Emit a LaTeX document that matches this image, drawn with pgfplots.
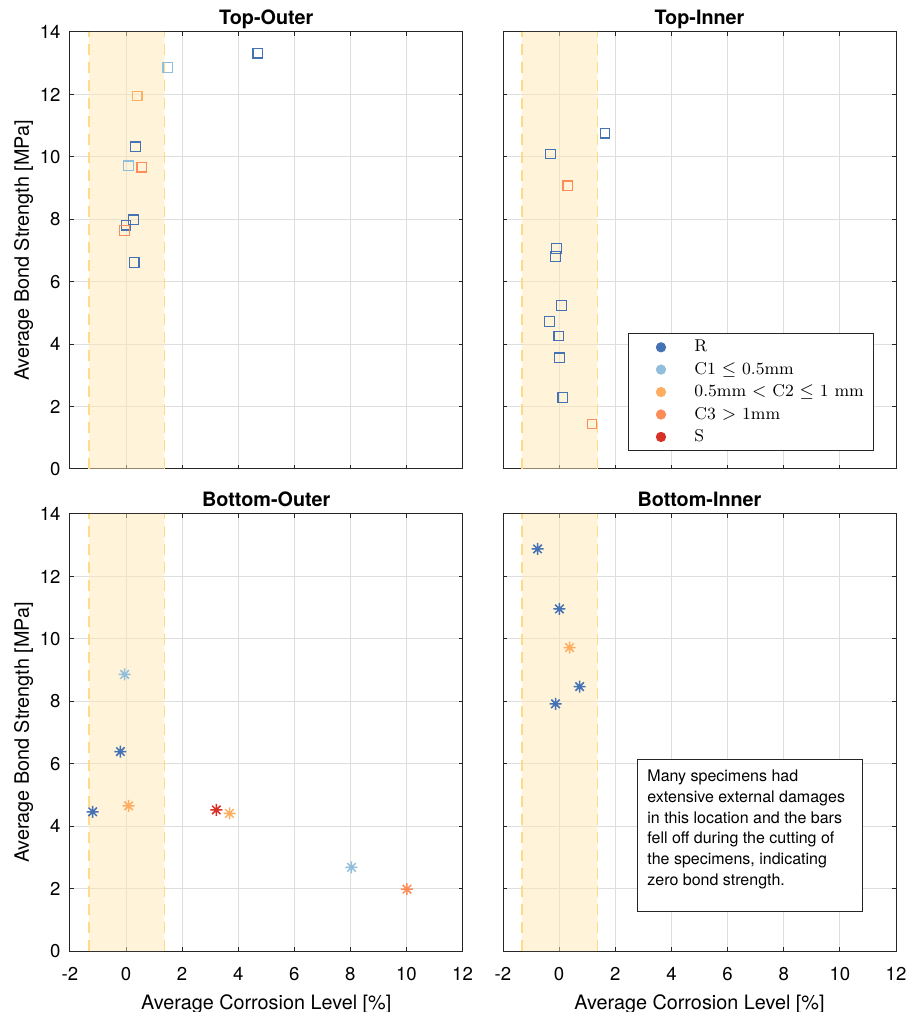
\documentclass[border=0pt]{standalone}
\usepackage{pgfplots}
\pgfplotsset{compat=1.18}
\usepackage{fontspec}
\setsansfont{TeX Gyre Heros}
\definecolor{cR}{RGB}{68,114,180}
\definecolor{cC1}{RGB}{145,191,219}
\definecolor{cC2}{RGB}{253,174,97}
\definecolor{cC3}{RGB}{252,141,89}
\definecolor{cS}{RGB}{215,48,39}
\definecolor{shadefill}{RGB}{255,231,179}
\definecolor{shadeline}{RGB}{255,218,135}
\pgfdeclareplotmark{mast}{%
  \pgfpathmoveto{\pgfqpoint{-\pgfplotmarksize}{0pt}}\pgfpathlineto{\pgfqpoint{\pgfplotmarksize}{0pt}}%
  \pgfpathmoveto{\pgfqpoint{0pt}{-\pgfplotmarksize}}\pgfpathlineto{\pgfqpoint{0pt}{\pgfplotmarksize}}%
  \pgfpathmoveto{\pgfqpoint{-0.7071\pgfplotmarksize}{-0.7071\pgfplotmarksize}}\pgfpathlineto{\pgfqpoint{0.7071\pgfplotmarksize}{0.7071\pgfplotmarksize}}%
  \pgfpathmoveto{\pgfqpoint{-0.7071\pgfplotmarksize}{0.7071\pgfplotmarksize}}\pgfpathlineto{\pgfqpoint{0.7071\pgfplotmarksize}{-0.7071\pgfplotmarksize}}%
  \pgfusepathqstroke}
\pgfplotsset{
  panel/.style={
    scale only axis, height=218.5pt,
    xmin=-2, xmax=12, ymin=0, ymax=14,
    xtick={-2,0,2,4,6,8,10,12}, ytick={0,2,4,6,8,10,12,14},
    xticklabels={-2,0,2,4,6,8,10,12},
    yticklabels={0,2,4,6,8,10,12,14},
    grid=major, major grid style={color=black!13, line width=0.5pt},
    axis line style={black!85, line width=0.5pt},
    tick align=inside, major tick length=2pt,
    tick style={black!85, line width=0.5pt},
    font=\sffamily\fontsize{9.3}{11}\selectfont,
    xticklabel style={yshift=-4.5pt},
    yticklabel style={xshift=-1.2pt},
    label style={font=\sffamily\fontsize{9.9}{12}\selectfont},
    ylabel shift=-3.5pt,
    title style={font=\sffamily\bfseries\fontsize{9.9}{12}\selectfont, at={(0.5,1)}, anchor=base, yshift=-2.1pt},
    clip=false,
  },
  sq/.style={only marks, mark=square, mark size=2.4pt, line width=0.6pt},
  ast/.style={only marks, mark=mast, mark size=3pt, line width=0.75pt},
}
\newcommand{\corrband}{%
  \addplot[draw=none, fill=shadefill, fill opacity=0.5, forget plot] coordinates {(-1.33,0) (-1.33,14) (1.37,14) (1.37,0)} \closedcycle;
  \addplot[shadeline, line width=0.85pt, dash pattern=on 5.5pt off 3.5pt, forget plot] coordinates {(-1.33,0) (-1.33,14)};
  \addplot[shadeline, line width=0.85pt, dash pattern=on 5.5pt off 3.5pt, forget plot] coordinates {(1.37,0) (1.37,14)};
}
\begin{document}
\begin{tikzpicture}
\path[use as bounding box] (0,0) rectangle (459pt,506pt);
% Top-Outer
\begin{axis}[panel, width=196.25pt, at={(35pt,271.5pt)}, anchor=south west,
  title={Top-Outer}, xticklabels={}, ylabel={Average Bond Strength [MPa]}]
\corrband
\addplot[sq, cR] coordinates {(4.70,13.32) (0.34,10.32) (0.26,7.98) (0.00,7.81) (0.29,6.62)};
\addplot[sq, cC1] coordinates {(1.49,12.86) (0.09,9.71)};
\addplot[sq, cC2] coordinates {(0.40,11.95)};
\addplot[sq, cC3] coordinates {(0.56,9.67) (-0.05,7.64)};
\end{axis}
% Top-Inner
\begin{axis}[panel, width=196.5pt, at={(251.5pt,271.5pt)}, anchor=south west,
  title={Top-Inner}, xticklabels={}, yticklabels={},
  legend style={at={(0.318,0.311)}, anchor=north west, draw=black!85, line width=0.5pt,
    font=\rmfamily\fontsize{8.55}{9.5}\selectfont, row sep=-0.3pt, inner xsep=3pt, inner ysep=1.2pt,
    cells={anchor=west}},
  legend image code/.code={\path (0pt,0pt) (27.5pt,0pt); \draw[#1] plot coordinates {(13pt,0pt)};}]
\corrband
\addplot[sq, cR, forget plot] coordinates {(1.63,10.76) (-0.31,10.09) (-0.09,7.07) (-0.13,6.81) (0.08,5.24) (-0.34,4.72) (-0.01,4.26) (0.01,3.56) (0.13,2.29)};
\addplot[sq, cC3, forget plot] coordinates {(0.31,9.07) (1.17,1.44)};
\addlegendimage{only marks, mark=*, mark size=2.3pt, color=cR}
\addlegendentry{R}
\addlegendimage{only marks, mark=*, mark size=2.3pt, color=cC1}
\addlegendentry{C1 $\leq$ 0.5mm}
\addlegendimage{only marks, mark=*, mark size=2.3pt, color=cC2}
\addlegendentry{0.5mm $<$ C2 $\leq$ 1 mm}
\addlegendimage{only marks, mark=*, mark size=2.3pt, color=cC3}
\addlegendentry{C3 $>$ 1mm}
\addlegendimage{only marks, mark=*, mark size=2.3pt, color=cS}
\addlegendentry{S}
\end{axis}
% Bottom-Outer
\begin{axis}[panel, width=196.25pt, at={(35pt,30.5pt)}, anchor=south west,
  title={Bottom-Outer}, ylabel={Average Bond Strength [MPa]}, xlabel={Average Corrosion Level [\%]}]
\corrband
\addplot[ast, cR] coordinates {(-0.20,6.39) (-1.19,4.46)};
\addplot[ast, cC1] coordinates {(-0.05,8.86) (8.04,2.68)};
\addplot[ast, cC2] coordinates {(0.09,4.65) (3.69,4.41)};
\addplot[ast, cC3] coordinates {(10.02,1.98)};
\addplot[ast, cS] coordinates {(3.22,4.52)};
\end{axis}
% Bottom-Inner
\begin{axis}[panel, width=196.5pt, at={(251.5pt,30.5pt)}, anchor=south west,
  title={Bottom-Inner}, yticklabels={}, xlabel={Average Corrosion Level [\%]}]
\corrband
\addplot[ast, cR] coordinates {(-0.77,12.88) (0.01,10.96) (0.73,8.47) (-0.13,7.92)};
\addplot[ast, cC2] coordinates {(0.37,9.72)};
\node[draw=black!85, line width=0.5pt, fill=white, anchor=north west, minimum width=112.5pt, minimum height=76pt, inner sep=0pt] at (rel axis cs:0.341,0.439) {};
\node[anchor=north west, align=left, inner sep=0pt, font=\sffamily\fontsize{8}{10.35}\selectfont] at ([xshift=5pt, yshift=-5.2pt]rel axis cs:0.341,0.439)
  {Many specimens had\\extensive external damages\\in this location and the bars\\fell off during the cutting of\\the specimens, indicating\\zero bond strength.};
\end{axis}
\end{tikzpicture}
\end{document}
